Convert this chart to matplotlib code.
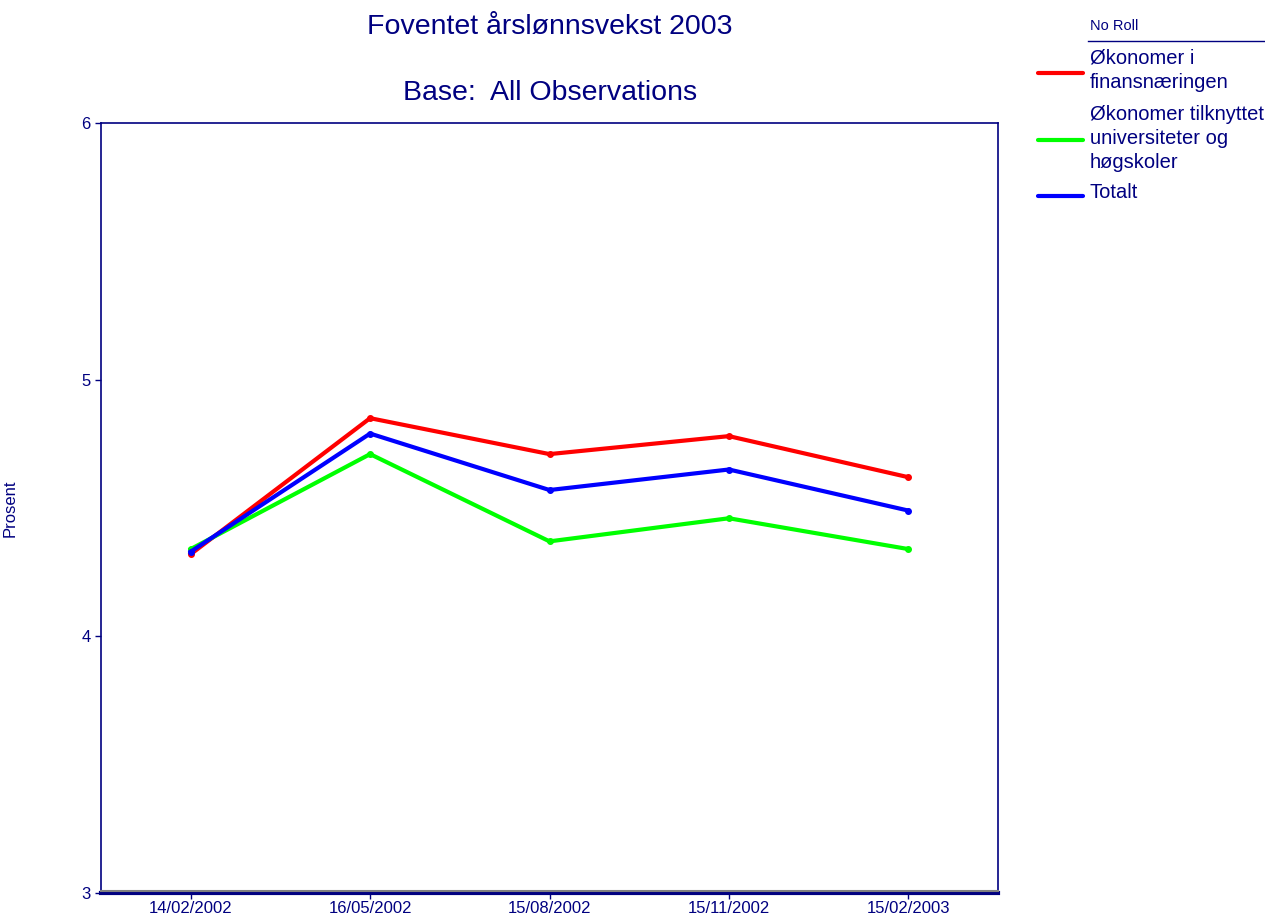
import matplotlib
matplotlib.use("Agg")
import matplotlib.pyplot as plt
from matplotlib.lines import Line2D

plt.rcParams['font.family'] = ['Liberation Sans', 'DejaVu Sans']

dates = ["14/02/2002", "16/05/2002", "15/08/2002", "15/11/2002", "15/02/2003"]
finans = [4.32, 4.85, 4.71, 4.78, 4.62]
univ = [4.34, 4.71, 4.37, 4.46, 4.34]
totalt = [4.33, 4.79, 4.57, 4.65, 4.49]
yticks = [3, 4, 5, 6]

navy = '#000080'
W, H = 1265, 917
fig = plt.figure(figsize=(W / 100, H / 100), dpi=100)
ax = fig.add_axes([101 / W, 1 - 893 / H, (998 - 101) / W, (893 - 123) / H])

x = list(range(len(dates)))
for vals, col in [(finans, '#ff0000'), (univ, '#00ff00'), (totalt, '#0000ff')]:
    ax.plot(x, vals, color=col, lw=3, marker='o', ms=4, zorder=3)

ax.set_xlim(-0.5, 4.5)
ax.set_ylim(3, 6)
ax.set_yticks(yticks)
ax.set_xticks(x)
ax.set_xticklabels(dates)
for s in ['left', 'top', 'right']:
    ax.spines[s].set_color(navy)
    ax.spines[s].set_linewidth(1.2)
ax.spines['bottom'].set_color(navy)
ax.spines['bottom'].set_linewidth(3)
ax.plot([0, 1], [0.003, 0.003], transform=ax.transAxes, color='#808080', lw=1.5, clip_on=False, zorder=4)
ax.tick_params(axis='both', colors=navy, labelcolor=navy, labelsize=12, length=4, width=1)
ax.tick_params(axis='x', pad=2)
ax.set_ylabel('Prosent', color=navy, fontsize=12)
ax.yaxis.set_label_coords(-0.093, 0.5)

fig.text(550 / W, 1 - 27 / H, 'Foventet årslønnsvekst 2003', ha='center', va='center', color=navy, fontsize=20.5)
fig.text(550 / W, 1 - 93 / H, 'Base:  All Observations', ha='center', va='center', color=navy, fontsize=20.5)

# Legend
fig.text(1090 / W, 1 - 26 / H, 'No Roll', ha='left', va='center', color=navy, fontsize=10.5)
fig.add_artist(Line2D([1088 / W, 1265 / W], [1 - 41 / H, 1 - 41 / H], color=navy, lw=1))
legend_items = [
    (['Økonomer i', 'finansnæringen'], '#ff0000', 73, 58),
    (['Økonomer tilknyttet', 'universiteter og', 'høgskoler'], '#00ff00', 140, 115),
    (['Totalt'], '#0000ff', 196, 193),
]
for lines, col, ly, ty in legend_items:
    fig.add_artist(Line2D([1038 / W, 1083 / W], [1 - ly / H, 1 - ly / H], color=col, lw=3, solid_capstyle='round'))
    for i, line in enumerate(lines):
        fig.text(1090 / W, 1 - (ty + 24 * i) / H, line, ha='left', va='center', color=navy, fontsize=14.5)

fig.savefig('out.png', dpi=100)
